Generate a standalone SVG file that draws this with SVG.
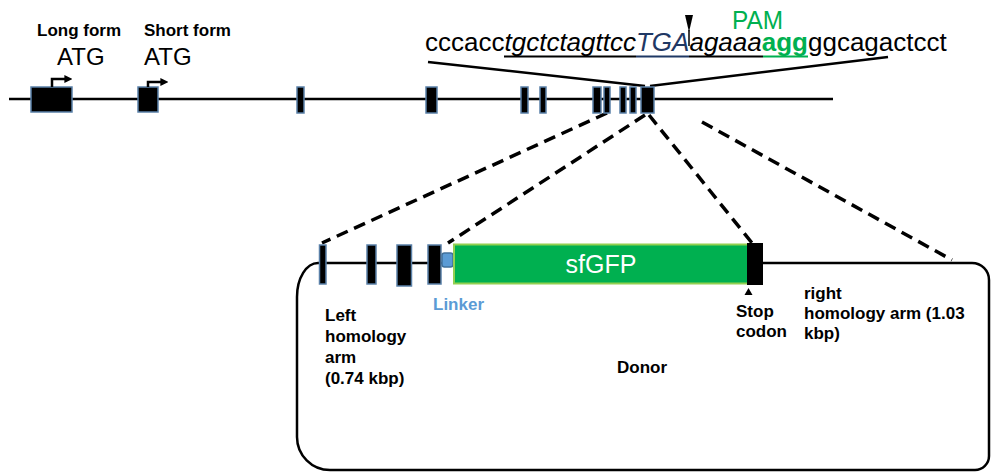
<svg xmlns="http://www.w3.org/2000/svg" width="991" height="473" viewBox="0 0 991 473">
<defs>
<style>
.lbl{font-family:"Liberation Sans",Arial,sans-serif;font-weight:bold;font-size:17px;fill:#000}
.big{font-family:"Liberation Sans",Arial,sans-serif;font-size:24px;fill:#000}
.seq{font-family:"Liberation Sans",Arial,sans-serif;font-size:26px;fill:#000}
.exon{fill:#000;stroke:#5a80a8;stroke-width:1.5}
.line{stroke:#000;stroke-width:2.5;fill:none}
.dash{stroke:#000;stroke-width:3.5;stroke-dasharray:12 7;fill:none}
</style>
<marker id="ah" viewBox="0 0 10 10" refX="2" refY="5" markerWidth="3.2" markerHeight="3.2" orient="auto" markerUnits="strokeWidth">
<path d="M0,0 L10,5 L0,10 z" fill="#000"/>
</marker>
</defs>
<rect width="991" height="473" fill="#fff"/>

<g id="connectors">
<line class="line" x1="428" y1="62" x2="645" y2="86"/>
<line class="line" x1="888" y1="57" x2="650" y2="86"/>
<line class="dash" x1="607" y1="113" x2="322" y2="243"/>
<line class="dash" x1="645" y1="115" x2="448" y2="243"/>
<line class="dash" x1="649" y1="115" x2="752" y2="243"/>
<line class="dash" x1="702" y1="122" x2="952" y2="260"/>
</g>

<g id="gene">
<line class="line" x1="9" y1="99" x2="833" y2="99"/>
<rect class="exon" x="31" y="87" width="41" height="25"/>
<rect class="exon" x="138" y="87" width="20" height="25"/>
<rect class="exon" x="297" y="87" width="7" height="26"/>
<rect class="exon" x="426" y="87" width="11" height="26"/>
<rect class="exon" x="521" y="87" width="7" height="26"/>
<rect class="exon" x="540" y="87" width="6" height="26"/>
<rect class="exon" x="593" y="87" width="8" height="26"/>
<rect class="exon" x="604" y="87" width="6" height="26"/>
<rect class="exon" x="620" y="87" width="6" height="26"/>
<rect class="exon" x="630" y="87" width="6" height="26"/>
<rect class="exon" x="641" y="87" width="13" height="26"/>
<path d="M52,87 V79 H66" fill="none" stroke="#000" stroke-width="2.5" marker-end="url(#ah)"/>
<path d="M148,87 V82 H162" fill="none" stroke="#000" stroke-width="2.5" marker-end="url(#ah)"/>
</g>

<g id="labels-top">
<text class="lbl" x="37" y="36">Long form</text>
<text class="lbl" x="144" y="36">Short form</text>
<text class="big" x="57" y="65">ATG</text>
<text class="big" x="144" y="65">ATG</text>
</g>

<g id="sequence">
<text class="seq" x="425" y="51">cccacc<tspan font-style="italic">tgctctagttcc</tspan><tspan font-style="italic" fill="#1f3864">TGA</tspan><tspan font-style="italic">agaaa</tspan><tspan font-weight="bold" fill="#00b050">agg</tspan>ggcagactcct</text>
<line x1="504" y1="56.5" x2="636" y2="56.5" stroke="#000" stroke-width="2"/>
<line x1="636" y1="56.5" x2="689" y2="56.5" stroke="#1f3864" stroke-width="2"/>
<line x1="689" y1="56.5" x2="763" y2="56.5" stroke="#000" stroke-width="2"/>
<line x1="763" y1="56.5" x2="808" y2="56.5" stroke="#00b050" stroke-width="2"/>
<path d="M685,15 L693,15 L689,32 z" fill="#000"/>
<line x1="689" y1="30" x2="689" y2="46" stroke="#000" stroke-width="1.5"/>
<text x="732" y="29" textLength="51" lengthAdjust="spacingAndGlyphs" font-family="Liberation Sans, Arial, sans-serif" font-size="25" fill="#00b050">PAM</text>
</g>

<g id="donor">
<path d="M318,263 H972 A17,17 0 0 1 989,280 V456 A14,14 0 0 1 975,470 H330 A33,33 0 0 1 297,437 V297 A21,34 0 0 1 318,263 Z" fill="none" stroke="#000" stroke-width="2.5"/>
<rect class="exon" x="319.5" y="245" width="6.5" height="39"/>
<rect class="exon" x="367" y="245" width="9" height="39"/>
<rect class="exon" x="397" y="245" width="14.5" height="41"/>
<rect class="exon" x="428" y="245" width="13" height="39"/>
<rect x="442" y="253" width="11" height="14" rx="2.5" fill="#5b9bd5" stroke="#41719c" stroke-width="1.5"/>
<rect x="454" y="244.5" width="294" height="39" fill="#00b050" stroke="#92d050" stroke-width="2"/>
<text x="601" y="273" text-anchor="middle" font-family="Liberation Sans, Arial, sans-serif" font-size="25" fill="#fff">sfGFP</text>
<rect x="747" y="243" width="16" height="42" fill="#000"/>
<path d="M748.5,288 L752.5,295 L744.5,295 z" fill="#000"/>
</g>

<g id="donor-labels">
<text class="lbl" x="433" y="310" style="fill:#5b9bd5">Linker</text>
<text class="lbl" x="325" y="321">Left</text>
<text class="lbl" x="325" y="342">homology</text>
<text class="lbl" x="325" y="363">arm</text>
<text class="lbl" x="325" y="384">(0.74 kbp)</text>
<text class="lbl" x="736" y="317">Stop</text>
<text class="lbl" x="736" y="337">codon</text>
<text class="lbl" x="804" y="299">right</text>
<text class="lbl" x="804" y="319">homology arm (1.03</text>
<text class="lbl" x="804" y="339">kbp)</text>
<text class="lbl" x="642" y="373" text-anchor="middle">Donor</text>
</g>
</svg>
